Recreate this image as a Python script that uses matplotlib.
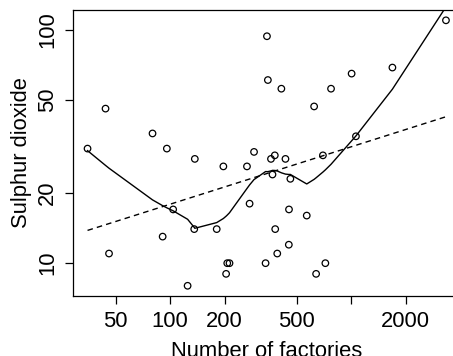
import numpy as np
import matplotlib
matplotlib.use("Agg")
import matplotlib.pyplot as plt
from matplotlib.ticker import FixedLocator, NullLocator, NullFormatter

# US air pollution (41 cities): manufacturing enterprises with 20 or more
# workers, and SO2 content of air in micrograms per cubic metre
cities = ["Albany", "Albuquerque", "Atlanta", "Baltimore", "Buffalo", "Charleston",
          "Chicago", "Cincinnati", "Cleveland", "Columbus", "Dallas", "Denver",
          "Des Moines", "Detroit", "Hartford", "Houston", "Indianapolis",
          "Jacksonville", "Kansas City", "Little Rock", "Louisville", "Memphis",
          "Miami", "Milwaukee", "Minneapolis", "Nashville", "New Orleans", "Norfolk",
          "Omaha", "Philadelphia", "Phoenix", "Pittsburgh", "Providence", "Richmond",
          "Salt Lake City", "San Francisco", "Seattle", "St. Louis", "Washington",
          "Wichita", "Wilmington"]
manu = [44, 46, 368, 625, 391, 35, 3344, 462, 1007, 266, 641, 454, 104, 1064, 412,
        721, 361, 136, 381, 91, 291, 337, 207, 569, 699, 275, 204, 96, 181, 1692,
        213, 347, 343, 197, 137, 453, 379, 775, 434, 125, 80]
so2 = [46, 11, 24, 47, 11, 31, 110, 23, 65, 26, 9, 17, 17, 35, 56, 10, 28, 14, 14,
       13, 30, 10, 10, 16, 29, 18, 9, 31, 14, 69, 10, 61, 94, 26, 28, 12, 29, 56,
       28, 8, 36]

x_ticks = [50, 100, 200, 500, 1000, 2000]
x_tick_labels = ["50", "100", "200", "500", "", "2000"]
y_ticks = [10, 20, 50, 100]
y_tick_labels = ["10", "20", "50", "100"]


def loess(x, y, x0s, span=0.75, degree=2):
    """Local polynomial regression with tricube weights (direct evaluation)."""
    n = len(x)
    q = int(np.floor(n * span))
    out = []
    for x0 in x0s:
        d = np.abs(x - x0)
        h = max(np.sort(d)[q - 1], 1e-12)
        u = d / h
        w = np.where(u < 1, (1 - u ** 3) ** 3, 0.0)
        X = np.vander(x - x0, degree + 1, increasing=True)
        sw = np.sqrt(w)
        beta, *_ = np.linalg.lstsq(X * sw[:, None], y * sw, rcond=None)
        out.append(beta[0])
    return np.array(out)


plt.rcParams["font.family"] = ["Liberation Sans", "DejaVu Sans"]
FS = 15.8

fig = plt.figure(figsize=(4.53, 3.56), dpi=100)
W, H = 453, 356
left_px, right_px, top_px, bottom_px = 73.2, 460.3, 9.7, 296.4
ax = fig.add_axes([left_px / W, 1 - bottom_px / H,
                   (right_px - left_px) / W, (bottom_px - top_px) / H])

x = np.array(manu, float)
y = np.array(so2, float)
lx, ly = np.log(x), np.log(y)
xs = np.sort(x)

ax.scatter(x, y, s=22, facecolors="none", edgecolors="black", linewidths=0.9,
           zorder=3)

# local regression smoother on the log-log scale
smooth = np.exp(loess(lx, ly, np.log(xs)))
ax.plot(xs, smooth, color="black", lw=1.0)

# straight-line fit on the log-log scale
slope, intercept = np.polyfit(lx, ly, 1)
ax.plot(xs, np.exp(intercept + slope * np.log(xs)), color="black", lw=1.0,
        linestyle=(0, (4, 3)))

ax.set_xscale("log")
ax.set_yscale("log")
lx0, lx1 = np.log10(x.min()), np.log10(x.max())
ly0, ly1 = np.log10(y.min()), np.log10(y.max())
ax.set_xlim(10 ** (lx0 - 0.04 * (lx1 - lx0)), 10 ** (lx1 + 0.04 * (lx1 - lx0)))
ax.set_ylim(10 ** (ly0 - 0.04 * (ly1 - ly0)), 10 ** (ly1 + 0.04 * (ly1 - ly0)))

ax.xaxis.set_major_locator(FixedLocator(x_ticks))
ax.xaxis.set_minor_locator(NullLocator())
ax.xaxis.set_minor_formatter(NullFormatter())
ax.set_xticklabels(x_tick_labels)
ax.yaxis.set_major_locator(FixedLocator(y_ticks))
ax.yaxis.set_minor_locator(NullLocator())
ax.yaxis.set_minor_formatter(NullFormatter())
ax.set_yticklabels(y_tick_labels, rotation=90, va="center")

ax.tick_params(axis="both", direction="out", length=5.8, width=0.9,
               labelsize=FS, colors="black", pad=5)
for sp in ax.spines.values():
    sp.set_linewidth(0.9)

ax.set_xlabel("Number of factories", fontsize=FS, labelpad=6.5)
ax.set_ylabel("Sulphur dioxide", fontsize=FS, labelpad=3.5)

fig.savefig("out.png", dpi=100)
